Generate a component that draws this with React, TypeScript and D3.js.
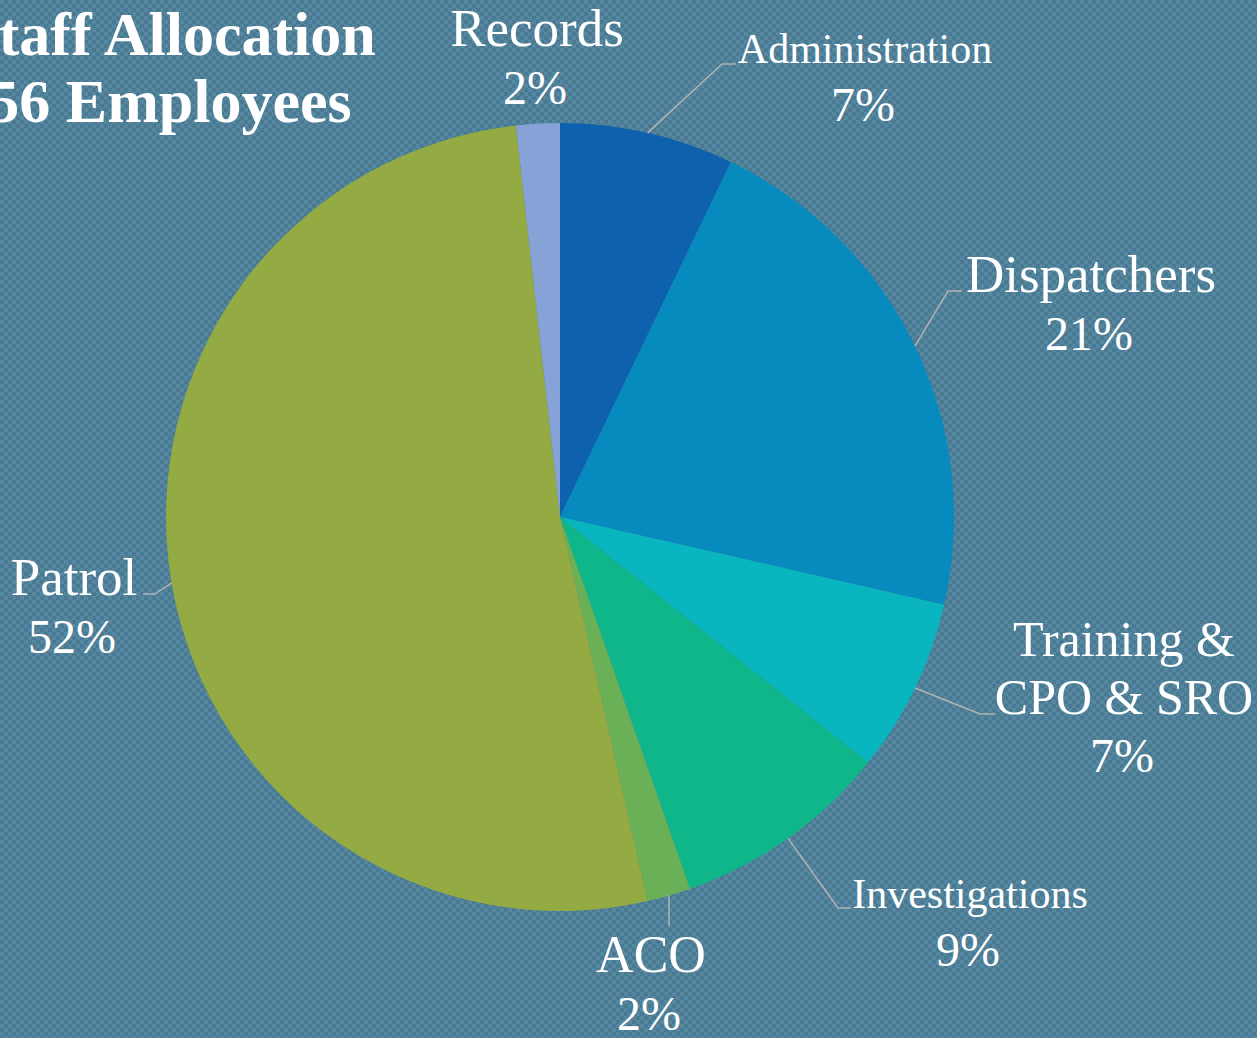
import * as d3 from 'd3';
import React from 'react';

// staff counts, clockwise from 12 o'clock (56 employees total)
const departments = ['Administration', 'Dispatchers', 'Training & CPO & SRO', 'Investigations', 'ACO', 'Patrol', 'Records'];
const headcount = [4, 12, 4, 5, 1, 29, 1];
const sliceColors = ['#0e62ad', '#078bbf', '#09b5bf', '#0fb68a', '#6ab057', '#93ab42', '#87a2d6'];
const titleLines = ['Staff Allocation', '56 Employees'];

// label placement: text lines, centre x, first baseline, font size, leader bend/end
const labelLayout = [
  { lines: ['Administration'], x: 865, y: 63, size: 42, bend: [722, 64], end: [736, 64] },
  { lines: ['Dispatchers'], x: 1091, y: 292, size: 53, bend: [948, 291], end: [962, 291] },
  { lines: ['Training &', 'CPO & SRO'], x: 1124, y: 656, size: 50, bend: [980, 714], end: [995, 714] },
  { lines: ['Investigations'], x: 970, y: 908, size: 42, bend: [838, 908], end: [851, 908] },
  { lines: ['ACO'], x: 651, y: 972, size: 52, bend: [669, 926], end: [669, 926] },
  { lines: ['Patrol'], x: 74, y: 595, size: 53, bend: [155, 594], end: [143, 594] },
  { lines: ['Records'], x: 537, y: 46, size: 53, bend: null, end: null },
];

const W = 1257;
const H = 1038;
const cx = 560;
const cy = 517;
const R = 394;
const serif = '"Liberation Serif", "Times New Roman", serif';

export default function App() {
  const total = d3.sum(headcount);
  const pct = d3.format('.0%');
  const pie = d3.pie<number>().sort(null).value((d) => d);
  const arcs = pie(headcount);
  const arc = d3.arc<d3.PieArcDatum<number>>().innerRadius(0).outerRadius(R);

  return (
    <svg width={W} height={H} style={{ position: 'absolute', left: 0, top: 0, display: 'block' }}>
      <defs>
        <pattern id="weave" width={8} height={8} patternUnits="userSpaceOnUse">
          <rect width={8} height={8} fill="#4a7a92" />
          <rect x={0} y={0} width={4} height={4} fill="#5587a0" />
          <rect x={4} y={4} width={4} height={4} fill="#5587a0" />
        </pattern>
      </defs>
      <rect width={W} height={H} fill="url(#weave)" />

      <g fontFamily={serif} fontWeight="bold" fontSize={62} fill="#fff" textAnchor="middle">
        {titleLines.map((t, i) => (
          <text key={t} x={170} y={55 + i * 67}>{t}</text>
        ))}
      </g>

      <g transform={`translate(${cx},${cy})`}>
        {arcs.map((a, i) => (
          <path key={departments[i]} d={arc(a) || ''} fill={sliceColors[i]} />
        ))}
      </g>

      {arcs.map((a, i) => {
        const L = labelLayout[i];
        const mid = (a.startAngle + a.endAngle) / 2;
        const sx = cx + R * Math.sin(mid);
        const sy = cy - R * Math.cos(mid);
        return (
          <g key={departments[i]}>
            {L.bend && (
              <polyline
                points={`${sx},${sy} ${L.bend[0]},${L.bend[1]} ${L.end![0]},${L.end![1]}`}
                fill="none"
                stroke="#b3b3b3"
                strokeWidth={1.5}
              />
            )}
            <g fontFamily={serif} fill="#fff" textAnchor="middle">
              {L.lines.map((t, j) => (
                <text key={t} x={L.x} y={L.y + j * 58} fontSize={L.size}>{t}</text>
              ))}
              <text x={L.x - 2} y={L.y + L.lines.length * 58} fontSize={48}>
                {pct(headcount[i] / total)}
              </text>
            </g>
          </g>
        );
      })}
    </svg>
  );
}
